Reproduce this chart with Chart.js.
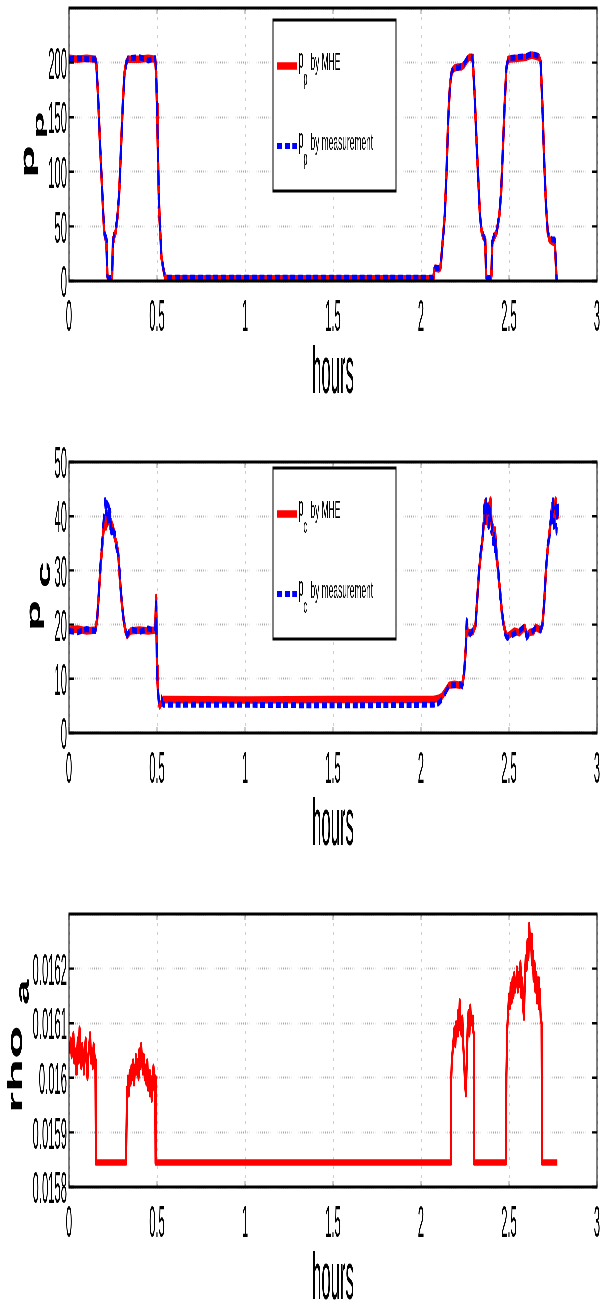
<!DOCTYPE html>
<html>
<head>
<meta charset="utf-8">
<script src="https://cdn.jsdelivr.net/npm/chart.js@4.4.1/dist/chart.umd.min.js"></script>
<style>
  html, body { margin: 0; padding: 0; background: #fff; }
  canvas { display: block; }
</style>
</head>
<body>
<!-- the figure is stretched 3x vertically: each canvas is drawn at 1/3 height and displayed at full height -->
<canvas id="ppChart" width="602" height="145" style="width:602px;height:435px"></canvas>
<canvas id="pcChart" width="602" height="145" style="width:602px;height:435px"></canvas>
<canvas id="rhoChart" width="602" height="144" style="width:602px;height:432px"></canvas>
<script>
// ---- axes ----
const hourTicks = [0, 0.5, 1, 1.5, 2, 2.5, 3];
const hourLabels = ['0', '0.5', '1', '1.5', '2', '2.5', '3'];
const ppTicks = [0, 50, 100, 150, 200];
const ppLabels = ['0', '50', '100', '150', '200'];
const pcTicks = [0, 10, 20, 30, 40, 50];
const pcLabels = ['0', '10', '20', '30', '40', '50'];
const rhoTicks = [0.0158, 0.0159, 0.016, 0.0161, 0.0162];
const rhoLabels = ['0.0158', '0.0159', '0.016', '0.0161', '0.0162'];

// ---- p_p ----
const ppTime = [0, 0.05, 0.1, 0.15, 0.155, 0.165, 0.175, 0.185, 0.195, 0.2, 0.205, 0.212, 0.215, 0.218, 0.222, 0.24, 0.245, 0.25, 0.255, 0.265, 0.275, 0.285, 0.295, 0.305, 0.315, 0.325, 0.335, 0.4, 0.45, 0.49, 0.495, 0.5, 0.505, 0.51, 0.515, 0.52, 0.525, 0.535, 0.545, 0.555, 1.0, 1.5, 2.07, 2.075, 2.08, 2.1, 2.11, 2.115, 2.125, 2.135, 2.145, 2.155, 2.165, 2.175, 2.19, 2.21, 2.23, 2.245, 2.26, 2.275, 2.29, 2.295, 2.305, 2.315, 2.325, 2.335, 2.345, 2.355, 2.365, 2.37, 2.375, 2.395, 2.4, 2.405, 2.415, 2.43, 2.445, 2.455, 2.465, 2.475, 2.485, 2.495, 2.55, 2.6, 2.63, 2.67, 2.68, 2.69, 2.7, 2.71, 2.72, 2.73, 2.745, 2.76, 2.765, 2.77, 2.775];
const ppMHE = [204, 203, 204, 203, 200, 170, 130, 95, 60, 45, 40, 38, 38, 5, 2, 2, 5, 38, 40, 45, 58, 80, 120, 160, 190, 200, 203, 203, 204, 203, 190, 160, 120, 80, 55, 40, 22, 12, 4, 2, 2, 2, 2, 10, 12, 11, 12, 20, 40, 60, 100, 150, 180, 192, 195, 196, 196, 198, 202, 205, 205, 200, 170, 130, 95, 60, 45, 40, 38, 5, 2, 2, 5, 35, 40, 45, 60, 80, 120, 160, 195, 203, 204, 205, 207, 205, 200, 160, 110, 70, 45, 38, 36, 35, 20, 2, 3];
const ppMeas = [203, 204, 203, 203, 200, 172, 132, 97, 62, 46, 41, 40, 36, 5, 2, 3, 5, 36, 42, 47, 60, 80, 118, 158, 188, 199, 204, 205, 202, 204, 192, 162, 122, 82, 55, 40, 24, 12, 5, 3, 3, 3, 3, 10, 12, 12, 13, 20, 38, 58, 98, 148, 182, 192, 196, 195, 197, 199, 203, 206, 205, 200, 168, 128, 94, 60, 46, 42, 36, 5, 2, 3, 5, 36, 42, 44, 62, 82, 118, 162, 194, 204, 205, 206, 208, 206, 200, 158, 108, 70, 46, 40, 38, 38, 22, 3, 4];

// ---- p_c ----
const pcTime = [0, 0.05, 0.1, 0.15, 0.16, 0.17, 0.18, 0.19, 0.2, 0.205, 0.21, 0.215, 0.22, 0.225, 0.23, 0.235, 0.24, 0.245, 0.25, 0.26, 0.27, 0.28, 0.29, 0.3, 0.31, 0.32, 0.33, 0.35, 0.4, 0.45, 0.49, 0.495, 0.5, 0.505, 0.51, 0.515, 0.525, 0.535, 1.0, 1.5, 2.07, 2.1, 2.12, 2.14, 2.16, 2.19, 2.22, 2.235, 2.245, 2.255, 2.26, 2.265, 2.28, 2.295, 2.31, 2.32, 2.33, 2.34, 2.35, 2.36, 2.365, 2.37, 2.375, 2.38, 2.385, 2.39, 2.395, 2.4, 2.405, 2.41, 2.415, 2.42, 2.425, 2.43, 2.44, 2.45, 2.46, 2.47, 2.48, 2.49, 2.53, 2.56, 2.59, 2.6, 2.62, 2.64, 2.65, 2.68, 2.69, 2.7, 2.71, 2.72, 2.73, 2.74, 2.745, 2.75, 2.755, 2.76, 2.765, 2.77, 2.775, 2.78];
const pcMHE = [19, 19.2, 18.8, 19, 21, 26, 31, 35, 39, 38, 40, 38.5, 40.5, 39, 40, 38, 39, 38, 38, 36, 35, 33, 28, 24, 21, 19, 18, 18.8, 19, 18.8, 19, 25, 12, 8, 6, 5, 5.5, 6.2, 6.1, 6.2, 6.2, 6.4, 6.8, 7.8, 8.8, 9, 8.8, 9, 11, 16, 20.5, 18.5, 18.5, 18.7, 20, 25, 30, 33, 36, 40, 42.5, 39, 41, 38.5, 42, 40, 43, 39, 37, 38, 36, 37.5, 35, 33, 29, 26, 22, 20, 18.5, 17.8, 18.8, 18.5, 19.5, 18, 18.6, 18.7, 19.5, 19, 20, 24, 30, 34, 37, 40, 42, 40, 42, 38.5, 43, 40, 41, 39.5];
const pcMeas = [18.8, 18.6, 19.2, 18.8, 21, 26, 32, 36, 41, 43, 40, 42.5, 39, 42, 38.5, 41, 37, 38.5, 37, 37, 34, 33, 29, 24, 21, 19, 18, 19.2, 18.6, 19.3, 18.8, 24, 12, 8, 6, 5.5, 6.5, 5.2, 5.2, 5.1, 5.2, 5.5, 6.2, 7.5, 8.8, 8.8, 9, 8.6, 11, 16, 20.8, 19, 18.2, 19, 20, 25, 30, 34, 35, 42, 39, 43, 40, 42, 38, 41.5, 40, 37, 38.5, 35, 37.5, 33, 36, 31, 30, 25, 23, 19.5, 18, 17.5, 18.3, 18.9, 19.7, 17.6, 18.4, 19, 19.3, 19, 20, 24, 30, 35, 36, 41, 39, 43, 38, 41, 42, 37, 43, 40];

// ---- rho_a ----
const rhoTime = [0, 0.005, 0.01, 0.015, 0.02, 0.025, 0.03, 0.035, 0.04, 0.045, 0.05, 0.055, 0.06, 0.065, 0.07, 0.075, 0.08, 0.085, 0.09, 0.095, 0.1, 0.105, 0.11, 0.115, 0.12, 0.125, 0.13, 0.135, 0.14, 0.145, 0.15, 0.153,
  0.324, 0.33, 0.335, 0.34, 0.345, 0.35, 0.355, 0.36, 0.365, 0.37, 0.375, 0.38, 0.385, 0.39, 0.395, 0.4, 0.405, 0.41, 0.415, 0.42, 0.425, 0.43, 0.435, 0.44, 0.445, 0.45, 0.455, 0.46, 0.465, 0.47, 0.475, 0.48, 0.485, 0.49, 0.492,
  2.165, 2.17, 2.175, 2.18, 2.185, 2.19, 2.195, 2.2, 2.205, 2.21, 2.215, 2.22, 2.225, 2.23, 2.235, 2.24, 2.245, 2.25, 2.255, 2.26, 2.265, 2.27, 2.275, 2.28, 2.285, 2.29, 2.295, 2.3, 2.302,
  2.482, 2.485, 2.49, 2.495, 2.5, 2.505, 2.51, 2.515, 2.52, 2.525, 2.53, 2.535, 2.54, 2.545, 2.55, 2.555, 2.56, 2.565, 2.57, 2.575, 2.58, 2.585, 2.59, 2.595, 2.6, 2.605, 2.61, 2.615, 2.62, 2.625, 2.63, 2.635, 2.64, 2.645, 2.65, 2.655, 2.66, 2.665, 2.67, 2.675, 2.68, 2.685, 2.688, 2.775];
const rhoValue = [0.01606, 0.01605, 0.01607, 0.01604, 0.01606, 0.01608, 0.01603, 0.01605, 0.01601, 0.01604, 0.01607, 0.01603, 0.01609, 0.01605, 0.01602, 0.01606, 0.01604, 0.01601, 0.01605, 0.01607, 0.01603, 0.01600, 0.01604, 0.01606, 0.01608, 0.01603, 0.01605, 0.01602, 0.01606, 0.01604, 0.01603, 0.015845,
  0.015845, 0.01598, 0.01600, 0.01597, 0.01601, 0.01599, 0.01602, 0.01600, 0.01603, 0.01599, 0.01602, 0.01604, 0.01601, 0.01603, 0.01600, 0.01605, 0.01602, 0.01606, 0.01603, 0.01601, 0.01604, 0.01600, 0.01602, 0.01599, 0.01603, 0.01598, 0.01601, 0.01597, 0.01600, 0.01596, 0.01599, 0.01602, 0.01598, 0.01600, 0.015845,
  0.015845, 0.01598, 0.01603, 0.01605, 0.01607, 0.01609, 0.01606, 0.01610, 0.01608, 0.01612, 0.01609, 0.01614, 0.01610, 0.01608, 0.01611, 0.01606, 0.01603, 0.01599, 0.01597, 0.01603, 0.01609, 0.01612, 0.01608, 0.01613, 0.01610, 0.01611, 0.01609, 0.01608, 0.015845,
  0.015845, 0.01600, 0.01609, 0.01612, 0.01615, 0.01613, 0.01617, 0.01614, 0.01618, 0.01615, 0.01619, 0.01616, 0.01618, 0.01620, 0.01616, 0.01619, 0.01617, 0.01621, 0.01615, 0.01618, 0.01613, 0.01611, 0.01618, 0.01622, 0.01620, 0.01625, 0.01622, 0.01628, 0.01624, 0.01626, 0.01621, 0.01623, 0.01618, 0.01621, 0.01616, 0.01619, 0.01614, 0.01618, 0.01613, 0.01616, 0.01611, 0.01610, 0.015845, 0.015845];

const RED = '#ff0000';
const BLUE = '#0000ff';
const FONT = '"Liberation Sans", Arial, sans-serif';

function pts(time, vals) {
  return time.map((t, i) => ({ x: t, y: vals[i] }));
}

// text squeezed horizontally (the picture is narrow and tall)
function hText(ctx, s, x, y, size, sx, align, bold) {
  ctx.save();
  ctx.translate(x, y);
  ctx.scale(sx, 1);
  ctx.font = (bold ? 'bold ' : '') + size + 'px ' + FONT;
  ctx.textAlign = align || 'left';
  ctx.textBaseline = 'alphabetic';
  ctx.fillText(s, 0, 0);
  ctx.restore();
}

// rotated y label, reading bottom to top
function vText(ctx, s, x, y, size, sy) {
  ctx.save();
  ctx.translate(x, y);
  ctx.scale(1, sy);
  ctx.rotate(-Math.PI / 2);
  ctx.font = 'bold ' + size + 'px ' + FONT;
  ctx.textAlign = 'left';
  ctx.textBaseline = 'alphabetic';
  ctx.fillText(s, 0, 0);
  ctx.restore();
}

const matlabAxes = {
  id: 'matlabAxes',
  afterDraw(chart, args, o) {
    const { ctx, chartArea: a, scales: { x, y } } = chart;
    ctx.save();
    ctx.strokeStyle = '#000';
    ctx.fillStyle = '#000';

    // tick marks on all four sides
    ctx.lineWidth = 0.8;
    ctx.beginPath();
    o.yTicks.forEach(v => {
      const py = y.getPixelForValue(v);
      ctx.moveTo(a.left, py); ctx.lineTo(a.left + 5, py);
      ctx.moveTo(a.right, py); ctx.lineTo(a.right - 5, py);
    });
    hourTicks.forEach(v => {
      const px = x.getPixelForValue(v);
      ctx.moveTo(px, a.bottom); ctx.lineTo(px, a.bottom - 2);
      ctx.moveTo(px, a.top); ctx.lineTo(px, a.top + 2);
    });
    ctx.stroke();

    ctx.lineWidth = 1;
    ctx.strokeRect(a.left, a.top, a.right - a.left, a.bottom - a.top);

    // tick labels
    o.yTicks.forEach((v, i) => hText(ctx, o.yLabels[i], a.left - 2, y.getPixelForValue(v) + 5.4, 15, 0.75, 'right'));
    hourTicks.forEach((v, i) => hText(ctx, hourLabels[i], x.getPixelForValue(v), a.bottom + 16.8, 15, 0.75, 'center'));
    hText(ctx, 'hours', (a.left + a.right) / 2, a.bottom + 37.3, 22, 0.76, 'center');

    // y title with subscript
    o.title.forEach(p => vText(ctx, p.s, p.x, p.y, p.size, p.sy));

    // legend
    if (o.legend) {
      const L = o.legend;
      ctx.fillStyle = '#fff';
      ctx.fillRect(273, L.top, 123, 57);
      ctx.lineWidth = 1;
      ctx.strokeStyle = '#000';
      ctx.strokeRect(273, L.top, 123, 57);
      const rows = [
        { y: L.top + 15.3, color: RED, width: 2.5, dash: [], text: 'by MHE' },
        { y: L.top + 42, color: BLUE, width: 2, dash: [5, 2.7], text: 'by measurement' }
      ];
      rows.forEach(r => {
        ctx.save();
        ctx.strokeStyle = r.color;
        ctx.lineWidth = r.width;
        ctx.setLineDash(r.dash);
        ctx.beginPath();
        ctx.moveTo(277, r.y); ctx.lineTo(297, r.y);
        ctx.stroke();
        ctx.restore();
        ctx.fillStyle = '#000';
        hText(ctx, 'p', 298.5, r.y + 0.6, 9, 1.0);
        hText(ctx, L.sub, 303.5, r.y + 6.2, 7, 1.0);
        hText(ctx, r.text, 310.5, r.y + 1.4, 8, 1.05);
      });
    }
    ctx.restore();
  }
};

function makeChart(id, datasets, yMin, yMax, yStep, padTop, xHeight, deco) {
  return new Chart(document.getElementById(id), {
    type: 'line',
    data: { datasets },
    options: {
      responsive: false,
      devicePixelRatio: 3,
      animation: false,
      events: [],
      layout: { padding: { top: padTop, right: 5, left: 0, bottom: 0 } },
      plugins: { legend: { display: false }, tooltip: { enabled: false }, matlabAxes: deco },
      scales: {
        x: {
          type: 'linear', min: 0, max: 3,
          ticks: { display: false, stepSize: 0.5 },
          grid: { color: '#a8a8a8', lineWidth: 0.7, drawTicks: false },
          border: { display: false, dash: [1, 2] },
          afterFit: s => { s.height = xHeight; }
        },
        y: {
          min: yMin, max: yMax,
          ticks: { display: false, stepSize: yStep },
          grid: { color: '#a8a8a8', lineWidth: 0.7, drawTicks: false },
          border: { display: false, dash: [0.5, 1.6] },
          afterFit: s => { s.width = 69; }
        }
      }
    },
    plugins: [matlabAxes]
  });
}

// order: lower value is drawn on top, so the dotted measurement sits over the MHE line
function redLine(data, w) {
  return { data, borderColor: RED, borderWidth: w, pointRadius: 0, borderJoinStyle: 'round', order: 2 };
}
function blueLine(data) {
  return { data, borderColor: BLUE, borderWidth: 2, borderDash: [5, 2.7], pointRadius: 0, borderJoinStyle: 'round', order: 1 };
}

makeChart('ppChart',
  [redLine(pts(ppTime, ppMHE), 2.5), blueLine(pts(ppTime, ppMeas))],
  0, 250, 50, 2.67, 51.33,
  {
    yTicks: ppTicks, yLabels: ppLabels,
    title: [{ s: 'p', x: 34, y: 59.3, size: 20, sy: 0.9 }, { s: 'p', x: 43.5, y: 46.3, size: 15, sy: 1.0 }],
    legend: { top: 6.67, sub: 'p' }
  });

makeChart('pcChart',
  [redLine(pts(pcTime, pcMHE), 2.5), blueLine(pts(pcTime, pcMeas))],
  0, 50, 10, 9, 45.67,
  {
    yTicks: pcTicks, yLabels: pcLabels,
    title: [{ s: 'p', x: 40, y: 65.3, size: 20, sy: 0.85 }, { s: 'c', x: 50, y: 51, size: 19, sy: 0.85 }],
    legend: { top: 11, sub: 'c' }
  });

makeChart('rhoChart',
  [redLine(pts(rhoTime, rhoValue), 2.2)],
  0.0158, 0.0163, 0.0001, 14.67, 38.33,
  {
    yTicks: rhoTicks, yLabels: rhoLabels,
    title: [{ s: 'rho', x: 22, y: 81, size: 21, sy: 0.86 }, { s: 'a', x: 28.5, y: 45, size: 17, sy: 0.9 }]
  });
</script>
</body>
</html>
